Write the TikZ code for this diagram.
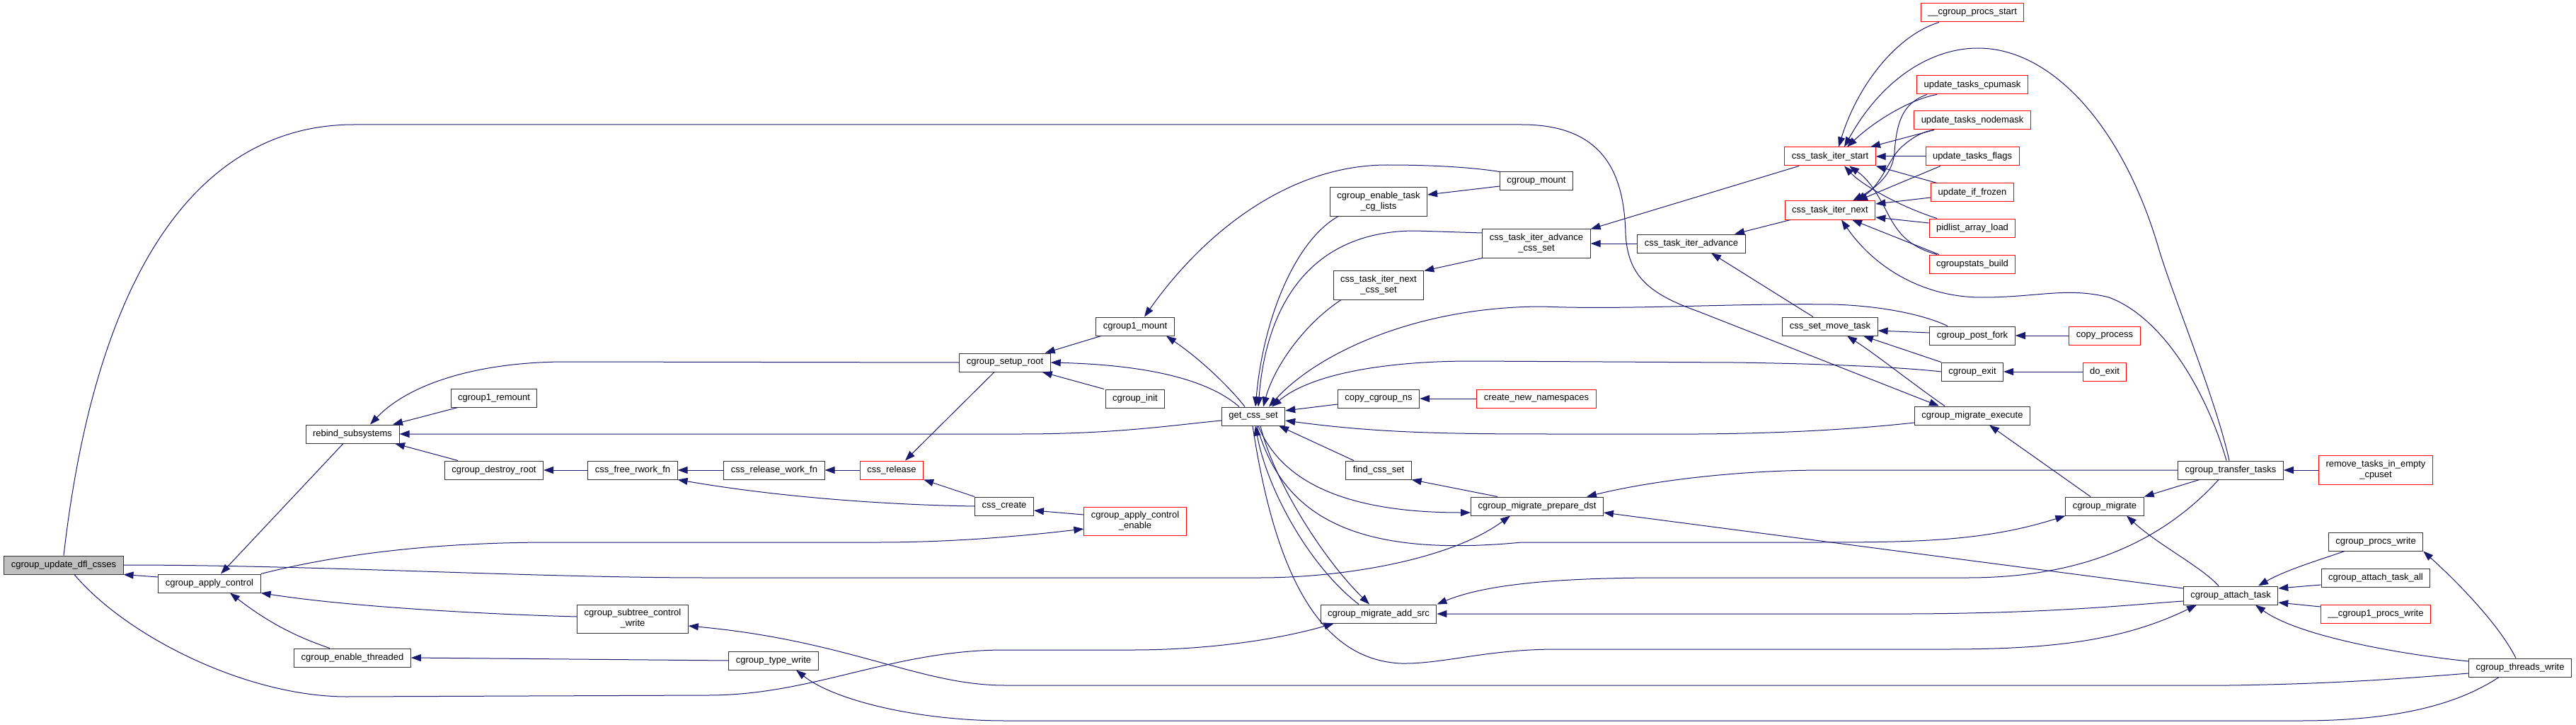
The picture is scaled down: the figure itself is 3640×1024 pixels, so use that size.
\documentclass[tikz,border=0pt]{standalone}
\usepackage{fontspec}
\setmainfont{Liberation Sans}
\usetikzlibrary{arrows.meta}
\definecolor{edgeblue}{HTML}{191970}
\definecolor{rootgray}{HTML}{BFBFBF}
\definecolor{boxgray}{HTML}{333333}

\begin{document}
\begin{tikzpicture}[x=1pt,y=-1pt,
  fn/.style={draw=boxgray,line width=1pt,fill=white,inner xsep=10pt,inner ysep=6.5pt,
    minimum height=26pt,align=center,font=\fontsize{13}{15}\selectfont},
  trunc/.style={fn,draw=red},
  root/.style={fn,fill=rootgray},
  call/.style={draw=edgeblue,line width=1pt,{Triangle[length=14pt,width=10pt]}-}]
\fill[white] (0,0) rectangle (3640,1024);
\useasboundingbox (0,0) rectangle (3640,1024);

% functions, left to right
\node[root] (dfl) at (90,798) {cgroup\_update\_dfl\_csses};
\node[fn] (applyctl) at (296,824) {cgroup\_apply\_control};
\node[fn] (rebind) at (498,613) {rebind\_subsystems};
\node[fn] (enthr) at (498,929) {cgroup\_enable\_threaded};
\node[fn] (remount) at (698,562) {cgroup1\_remount};
\node[fn] (destroyroot) at (698,664) {cgroup\_destroy\_root};
\node[fn] (freerwork) at (894,664) {css\_free\_rwork\_fn};
\node[fn] (subtree) at (894,874) {cgroup\_subtree\_control\\\_write};
\node[fn] (releasework) at (1094,664) {css\_release\_work\_fn};
\node[fn] (typewrite) at (1093,933) {cgroup\_type\_write};
\node[trunc] (cssrelease) at (1260,664) {css\_release};
\node[fn] (setuproot) at (1420,512) {cgroup\_setup\_root};
\node[fn] (csscreate) at (1419,715) {css\_create};
\node[fn] (c1mount) at (1604,461) {cgroup1\_mount};
\node[fn] (cginit) at (1604,563) {cgroup\_init};
\node[trunc] (ctlenable) at (1604,736) {cgroup\_apply\_control\\\_enable};
\node[fn] (getcss) at (1771,588) {get\_css\_set};
\node[fn] (enabletask) at (1948,285) {cgroup\_enable\_task\\\_cg\_lists};
\node[fn] (nextcss) at (1948,403) {css\_task\_iter\_next\\\_css\_set};
\node[fn] (copyns) at (1948,563) {copy\_cgroup\_ns};
\node[fn] (findcss) at (1948,664) {find\_css\_set};
\node[fn] (addsrc) at (1948,867) {cgroup\_migrate\_add\_src};
\node[fn] (cgmount) at (2171,256) {cgroup\_mount};
\node[fn] (advcss) at (2171,344) {css\_task\_iter\_advance\\\_css\_set};
\node[trunc] (newns) at (2171,563) {create\_new\_namespaces};
\node[fn] (prepdst) at (2172,715) {cgroup\_migrate\_prepare\_dst};
\node[fn] (advance) at (2390,344) {css\_task\_iter\_advance};
\node[trunc] (iterstart) at (2586,221) {css\_task\_iter\_start};
\node[trunc] (iternext) at (2586,297) {css\_task\_iter\_next};
\node[fn] (movetask) at (2586,461) {css\_set\_move\_task};
\node[trunc] (procsstart) at (2787,18) {\_\_cgroup\_procs\_start};
\node[trunc] (cpumask) at (2787,120) {update\_tasks\_cpumask};
\node[trunc] (nodemask) at (2787,170) {update\_tasks\_nodemask};
\node[trunc] (flags) at (2787,221) {update\_tasks\_flags};
\node[trunc] (frozen) at (2787,272) {update\_if\_frozen};
\node[trunc] (pidlist) at (2787,322) {pidlist\_array\_load};
\node[trunc] (cgstats) at (2787,373) {cgroupstats\_build};
\node[fn] (postfork) at (2787,474) {cgroup\_post\_fork};
\node[fn] (cgexit) at (2787,525) {cgroup\_exit};
\node[fn] (migexec) at (2787,587) {cgroup\_migrate\_execute};
\node[trunc] (copyproc) at (2974,474) {copy\_process};
\node[trunc] (doexit) at (2974,525) {do\_exit};
\node[fn] (migrate) at (2974,715) {cgroup\_migrate};
\node[fn] (transfer) at (3152,664) {cgroup\_transfer\_tasks};
\node[fn] (attachtask) at (3152,841) {cgroup\_attach\_task};
\node[trunc] (removetasks) at (3357,664) {remove\_tasks\_in\_empty\\\_cpuset};
\node[fn] (procswrite) at (3357,765) {cgroup\_procs\_write};
\node[fn] (attachall) at (3357,816) {cgroup\_attach\_task\_all};
\node[trunc] (c1procs) at (3357,867) {\_\_cgroup1\_procs\_write};
\node[fn] (threadswrite) at (3561,943) {cgroup\_threads\_write};

% straight calls on one row
\foreach \a/\b in {destroyroot/freerwork,freerwork/releasework,releasework/cssrelease,
  copyns/newns,advcss/advance,transfer/removetasks,postfork/copyproc,cgexit/doexit,
  iterstart/flags,enthr/typewrite}
  {\draw[call] (\a.east) -- (\b.west);}

% left part
\draw[call] (dfl.south east) -- ([yshift=9]applyctl.west);
\draw[call] ([xshift=-47]migexec.north) -- (2400,440) .. controls (2330,415) and (2300,390) .. (2297,330)
  .. controls (2295,250) and (2270,176) .. (2150,176) -- (500,176) .. controls (300,176) and (140,350) .. (dfl.north);
\draw[call] ([xshift=-38]prepdst.south) .. controls (2050,790) and (1900,816) .. (1780,816) -- (1000,816)
  .. controls (750,816) and (450,798) .. (dfl.east);
\draw[call] ([xshift=-63]addsrc.south) .. controls (1800,905) and (1700,918) .. (1600,918) -- (1420,918)
  .. controls (1260,918) and (1150,982) .. (1000,982) -- (490,984) .. controls (350,984) and (180,900) .. ([xshift=15]dfl.south);
\draw[call] ([xshift=16]applyctl.north) -- ([xshift=-13]rebind.south);
\draw[call] (applyctl.south east) .. controls (500,858) and (700,868) .. ([yshift=3]subtree.west);
\draw[call] ([xshift=29]applyctl.south) .. controls (380,880) and (420,900) .. ([xshift=-32]enthr.north);
\draw[call] ([yshift=-11]ctlenable.west) .. controls (1420,760) and (1330,766) .. (1240,766) -- (780,766)
  .. controls (580,766) and (450,790) .. (applyctl.north east);
\draw[call] ([xshift=57]rebind.north) -- ([xshift=-51]remount.south);
\draw[call] ([xshift=25]rebind.north) .. controls (580,540) and (680,511) .. (800,511) -- (setuproot.west);
\draw[call] (rebind.east) -- (1440,613) .. controls (1580,613) and (1660,600) .. ([yshift=-6]getcss.west);
\draw[call] ([xshift=60]rebind.south) -- ([xshift=-51]destroyroot.north);
\draw[call] (freerwork.south east) .. controls (1100,702) and (1250,713) .. (csscreate.west);
\draw[call] ([xshift=19]cssrelease.north) -- ([xshift=-15]setuproot.south);
\draw[call] (cssrelease.south east) -- (csscreate.north west);
\draw[call] ([yshift=-6]csscreate.east) -- ([yshift=9]ctlenable.west);
\draw[call] ([xshift=-8]setuproot.north east) -- ([xshift=-48]c1mount.south);
\draw[call] ([xshift=-12]setuproot.south east) -- ([xshift=-44]cginit.north);
\draw[call] (setuproot.east) .. controls (1600,515) and (1700,530) .. ([xshift=-20]getcss.north);
\draw[call] ([xshift=13]c1mount.north) .. controls (1700,330) and (1820,233) .. (1960,233)
  .. controls (2040,233) and (2090,238) .. (cgmount.north west);
\draw[call] ([xshift=44]c1mount.south) .. controls (1700,510) and (1740,550) .. ([xshift=-12]getcss.north);

% around get_css_set
\draw[call] ([yshift=10]enabletask.east) -- ([yshift=-7]cgmount.west);
\draw[call] ([xshift=3]getcss.north) .. controls (1785,450) and (1830,340) .. ([xshift=-57]enabletask.south);
\draw[call] ([xshift=7]getcss.north) .. controls (1790,420) and (1860,326) .. (2000,326) -- ([yshift=15]advcss.west);
\draw[call] (nextcss.north east) -- (advcss.south west);
\draw[call] ([xshift=14]getcss.north) .. controls (1800,520) and (1840,460) .. ([xshift=-53]nextcss.south);
\draw[call] ([xshift=22]getcss.north) .. controls (1860,500) and (2000,433) .. (2180,433)
  .. controls (2300,438) and (2450,428) .. (2590,430) .. controls (2660,432) and (2720,445) .. ([xshift=-35]postfork.north);
\draw[call] ([xshift=26]getcss.north) .. controls (1850,530) and (1950,510) .. (2080,510) -- (2450,512)
  .. controls (2600,514) and (2700,520) .. (cgexit.west);
\draw[call] ([yshift=8]getcss.east) -- ([yshift=-8]copyns.west);
\draw[call] ([yshift=-6]getcss.east) .. controls (1950,612) and (2050,613) .. (2200,613) -- (2400,613)
  .. controls (2550,612) and (2650,603) .. ([yshift=-10]migexec.west);
\draw[call] ([xshift=36]getcss.south) -- ([xshift=-35]findcss.north);
\draw[call] (findcss.south east) -- ([xshift=-56]prepdst.north);
\draw[call] ([yshift=-9]prepdst.west) .. controls (1900,724) and (1810,680) .. ([xshift=7]getcss.south);
\draw[call] (migrate.south west) .. controls (2800,766) and (2700,766) .. (2550,766) -- (2150,766)
  .. controls (1900,790) and (1810,720) .. ([xshift=5]getcss.south);
\draw[call] ([xshift=-13]addsrc.north) .. controls (1870,790) and (1800,680) .. ([xshift=10]getcss.south);
\draw[call] ([xshift=3]getcss.south) .. controls (1790,690) and (1850,800) .. ([xshift=-28]addsrc.north);
\draw[call] ([xshift=-48]attachtask.south) .. controls (3000,905) and (2900,917) .. (2750,917) -- (2200,917)
  .. controls (2100,917) and (2040,938) .. (1980,937) .. controls (1860,932) and (1800,800) .. ([xshift=-1]getcss.south);

% iterators
\draw[call] (advcss.north east) -- ([xshift=-44]iterstart.south);
\draw[call] ([xshift=61]advance.north) -- ([xshift=-56]iternext.south);
\draw[call] ([xshift=28]advance.south) -- ([xshift=-24]movetask.north);
\draw[call] ([xshift=12]iterstart.north) .. controls (2625,120) and (2680,50) .. ([xshift=-47]procsstart.south);
\draw[call] ([xshift=20]iterstart.north) .. controls (2660,110) and (2730,68) .. (2795,68)
  .. controls (2900,68) and (3000,180) .. (3050,350) .. controls (3070,418) and (3130,560) .. ([xshift=-2]transfer.north);
\draw[call] ([xshift=16]iternext.south) .. controls (2650,380) and (2720,420) .. (2800,420)
  .. controls (2880,420) and (2920,405) .. (2980,420) .. controls (3060,450) and (3120,560) .. ([xshift=-6]transfer.north);
\draw[call] ([xshift=24]iterstart.north) .. controls (2650,170) and (2700,140) .. ([xshift=-50]cpumask.south);
\draw[call] ([xshift=32]iternext.north) .. controls (2660,260) and (2675,240) .. (2677,215)
  .. controls (2680,170) and (2690,145) .. ([xshift=-64]cpumask.south);
\draw[call] ([xshift=57]iterstart.north) -- ([xshift=-54]nodemask.south);
\draw[call] ([xshift=37]iternext.north) .. controls (2660,260) and (2670,220) .. (2690,205)
  .. controls (2705,192) and (2720,185) .. ([xshift=-54]nodemask.south);
\draw[call] ([xshift=39]iternext.north) -- ([xshift=-45]flags.south);
\draw[call] (iterstart.south east) -- ([xshift=-50]frozen.north);
\draw[call] ([yshift=9]iternext.east) -- ([yshift=-7]frozen.west);
\draw[call] ([xshift=20]iterstart.south) .. controls (2630,260) and (2680,290) .. ([xshift=-50]pidlist.north);
\draw[call] ([yshift=-10]iternext.east) -- ([yshift=7]pidlist.west);
\draw[call] ([xshift=27]iterstart.south) .. controls (2650,260) and (2665,300) .. (2675,315)
  .. controls (2690,340) and (2710,352) .. ([xshift=-50]cgstats.north);
\draw[call] ([xshift=31]iternext.south) -- ([xshift=-47]cgstats.north);

% migration and attach
\draw[call] ([yshift=-6]movetask.east) -- ([yshift=4]postfork.west);
\draw[call] ([xshift=47]movetask.south) -- (cgexit.north west);
\draw[call] ([xshift=24]movetask.south) .. controls (2650,500) and (2700,540) .. ([xshift=-39]migexec.north);
\draw[call] ([xshift=70]prepdst.north) .. controls (2330,680) and (2450,664) .. (2580,664) -- (transfer.west);
\draw[call] (addsrc.north east) .. controls (2100,825) and (2200,816) .. (2350,816) -- (2780,816)
  .. controls (2950,816) and (3060,760) .. ([xshift=-17]transfer.south);
\draw[call] (migrate.north east) -- ([xshift=-44]transfer.south);
\draw[call] ([xshift=24]migexec.south) -- ([xshift=-20]migrate.north);
\draw[call] ([xshift=31]migrate.south) .. controls (3050,770) and (3110,800) .. ([xshift=-17]attachtask.north);
\draw[call] ([yshift=-9]prepdst.east) -- ([yshift=10]attachtask.west);
\draw[call] (addsrc.east) -- (2700,867) .. controls (2900,866) and (3000,855) .. ([yshift=-8]attachtask.west);
\draw[call] ([xshift=39]attachtask.north) .. controls (3230,805) and (3280,790) .. ([xshift=-44]procswrite.south);
\draw[call] ([yshift=10]attachtask.east) -- ([yshift=-10]attachall.west);
\draw[call] ([yshift=-10]attachtask.east) -- ([yshift=10]c1procs.west);
\draw[call] ([xshift=35]attachtask.south) .. controls (3250,900) and (3400,925) .. ([yshift=9]threadswrite.west);
\draw[call] (procswrite.south east) .. controls (3470,820) and (3530,880) .. ([xshift=-6]threadswrite.north);
\draw[call] ([yshift=-10]subtree.east) .. controls (1200,905) and (1300,968) .. (1420,968) -- (3150,968)
  .. controls (3300,966) and (3400,958) .. ([yshift=-8]threadswrite.west);
\draw[call] ([xshift=32]typewrite.south) .. controls (1180,990) and (1300,1018) .. (1420,1018) -- (3250,1018)
  .. controls (3400,1018) and (3480,990) .. ([xshift=-30]threadswrite.south);
\end{tikzpicture}
\end{document}
